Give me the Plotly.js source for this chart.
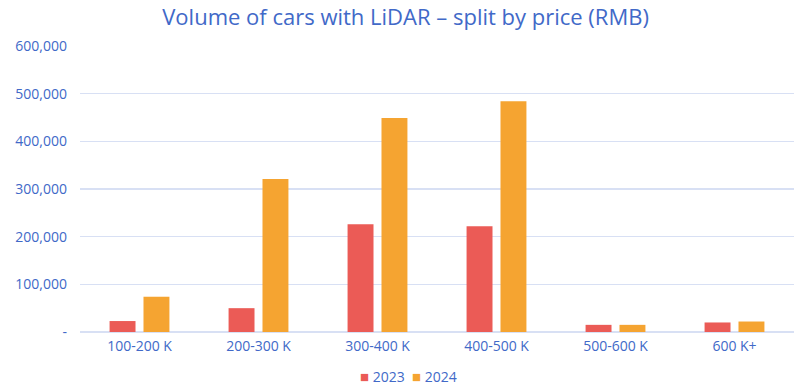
<!DOCTYPE html>
<html>
<head>
<meta charset="utf-8">
<script src="https://cdn.plot.ly/plotly-3.0.1.min.js"></script>
<style>html,body{margin:0;padding:0;background:#fff;}#chart{width:800px;height:391px;}</style>
</head>
<body>
<div id="chart"></div>
<script>
const categories = ["100-200 K", "200-300 K", "300-400 K", "400-500 K", "500-600 K", "600 K+"];
const values2023 = [23000, 50000, 226000, 222000, 15000, 20000];
const values2024 = [74000, 321000, 449000, 484000, 15000, 22000];
const seriesNames = ["2023", "2024"];
const seriesColors = ["#EB5B56", "#F5A431"];
const yTickVals = [0, 100000, 200000, 300000, 400000, 500000, 600000];
const yTickText = ["-", "100,000", "200,000", "300,000", "400,000", "500,000", "600,000"];

const blue = "#4169C8";
const fontFam = "Open Sans, Lato, sans-serif";

const traces = [
  {type: "bar", name: seriesNames[0], x: categories, y: values2023, marker: {color: seriesColors[0]}},
  {type: "bar", name: seriesNames[1], x: categories, y: values2024, marker: {color: seriesColors[1]}}
];

const legendText = seriesNames.map((n, i) =>
  '<span style="color:' + seriesColors[i] + ';font-size:15px">■</span> ' + n).join('  ');

const layout = {
  width: 800, height: 391,
  margin: {l: 80, r: 6, t: 46, b: 59},
  paper_bgcolor: "#fff", plot_bgcolor: "#fff",
  font: {family: fontFam, color: blue, size: 14},
  title: {text: "Volume of cars with LiDAR – split by price (RMB)", x: 0.507, xanchor: "center", y: 0.955, yanchor: "middle",
          font: {size: 22, color: blue, family: fontFam}},
  barmode: "group", bargap: 0.43, bargroupgap: 0.235,
  xaxis: {type: "category", showgrid: false, zeroline: false, showline: false, ticks: "",
          tickfont: {size: 14, color: blue}, ticklabelstandoff: 4},
  yaxis: {range: [0, 600000], tickvals: yTickVals, ticktext: yTickText, showgrid: true, gridcolor: "#D8E0F4", gridwidth: 1.5,
          zeroline: true, zerolinecolor: "#D8E0F4", zerolinewidth: 1.5, showline: false, ticks: "",
          tickfont: {size: 14, color: blue}, ticklabelstandoff: 12},
  showlegend: false,
  annotations: [{
    text: legendText, xref: "paper", yref: "paper", x: 0.46, y: -0.155, xanchor: "center", yanchor: "middle",
    showarrow: false, font: {size: 14, color: blue, family: fontFam}
  }]
};

Plotly.newPlot("chart", traces, layout, {displayModeBar: false, staticPlot: true});
</script>
</body>
</html>
